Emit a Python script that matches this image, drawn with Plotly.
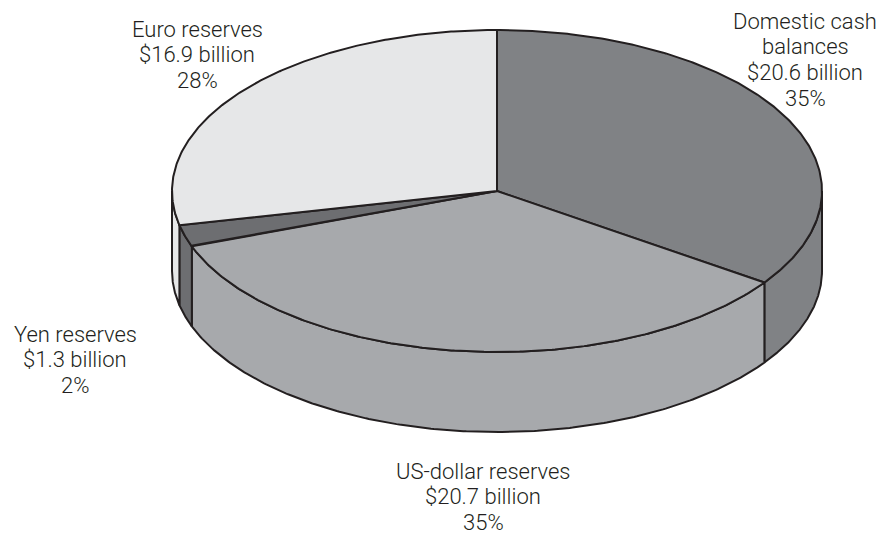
import numpy as np
import plotly.graph_objects as go

# Sources of liquidity, in billions of dollars
categories = ["Domestic cash balances", "US-dollar reserves", "Yen reserves", "Euro reserves"]
name_lines = [["Domestic cash", "balances"], ["US-dollar reserves"], ["Yen reserves"], ["Euro reserves"]]
values = [20.6, 20.7, 1.3, 16.9]
top_colors = ["#808285", "#a7a9ac", "#6d6e71", "#e6e7e8"]

# Label placement (pixel space): centre x and baseline of the first line
label_x = [805, 483, 75, 197]
label_base = [29, 479, 342, 37]
LINE_STEP = 25.8

W, H = 891, 537
CX, CY = 497, 191       # centre of the top face
RX, RY = 325, 161       # ellipse semi-axes
DEPTH = 80              # thickness of the disc
EDGE = "#231f20"
FSIZE = 22
FONT = dict(family="Roboto, 'Liberation Sans', Arial, sans-serif", size=FSIZE, color=EDGE, weight=300)

total = sum(values)
fractions = [v / total for v in values]

# Slices start at 12 o'clock and run clockwise
bounds = []
start = 90.0
for f in fractions:
    end = start - 360.0 * f
    bounds.append((start, end))
    start = end


def arc(t0, t1, n=240, dy=0.0):
    t = np.radians(np.linspace(t0, t1, n))
    return CX + RX * np.cos(t), CY - RY * np.sin(t) + dy


fig = go.Figure()

# Outer side walls: only the front half (angles between -180 and 0) is visible
for (s, e), col in zip(bounds, top_colors):
    lo, hi = max(min(s, e), -180.0), min(max(s, e), 0.0)
    if hi <= lo:
        continue
    xt, yt = arc(hi, lo)
    xb, yb = arc(lo, hi, dy=DEPTH)
    xs = np.concatenate([xt, xb, xt[:1]])
    ys = np.concatenate([yt, yb, yt[:1]])
    fig.add_trace(go.Scatter(x=xs, y=ys, mode="lines", fill="toself", fillcolor=col,
                             line=dict(color=EDGE, width=2), hoverinfo="skip", showlegend=False))

# Top faces of the slices
for (s, e), col, cat in zip(bounds, top_colors, categories):
    xa, ya = arc(s, e)
    xs = np.concatenate([[CX], xa, [CX]])
    ys = np.concatenate([[CY], ya, [CY]])
    fig.add_trace(go.Scatter(x=xs, y=ys, mode="lines", fill="toself", fillcolor=col, name=cat,
                             line=dict(color=EDGE, width=2), hoverinfo="name", showlegend=False))

# Labels: name, amount and share, one annotation per line
for lines, v, f, lx, lb in zip(name_lines, values, fractions, label_x, label_base):
    rows = lines + [f"${v:.1f} billion", f"{round(f * 100):.0f}%"]
    for i, row in enumerate(rows):
        base = lb + i * LINE_STEP
        fig.add_annotation(x=lx, y=base - 0.36 * FSIZE, xref="x", yref="y", showarrow=False,
                           text=row, font=FONT, align="center",
                           xanchor="center", yanchor="middle")

fig.update_layout(
    width=W, height=H,
    margin=dict(l=0, r=0, t=0, b=0),
    paper_bgcolor="white", plot_bgcolor="white",
    xaxis=dict(range=[0, W], visible=False, fixedrange=True),
    yaxis=dict(range=[H, 0], visible=False, fixedrange=True),
)

fig.write_html("out.html")
